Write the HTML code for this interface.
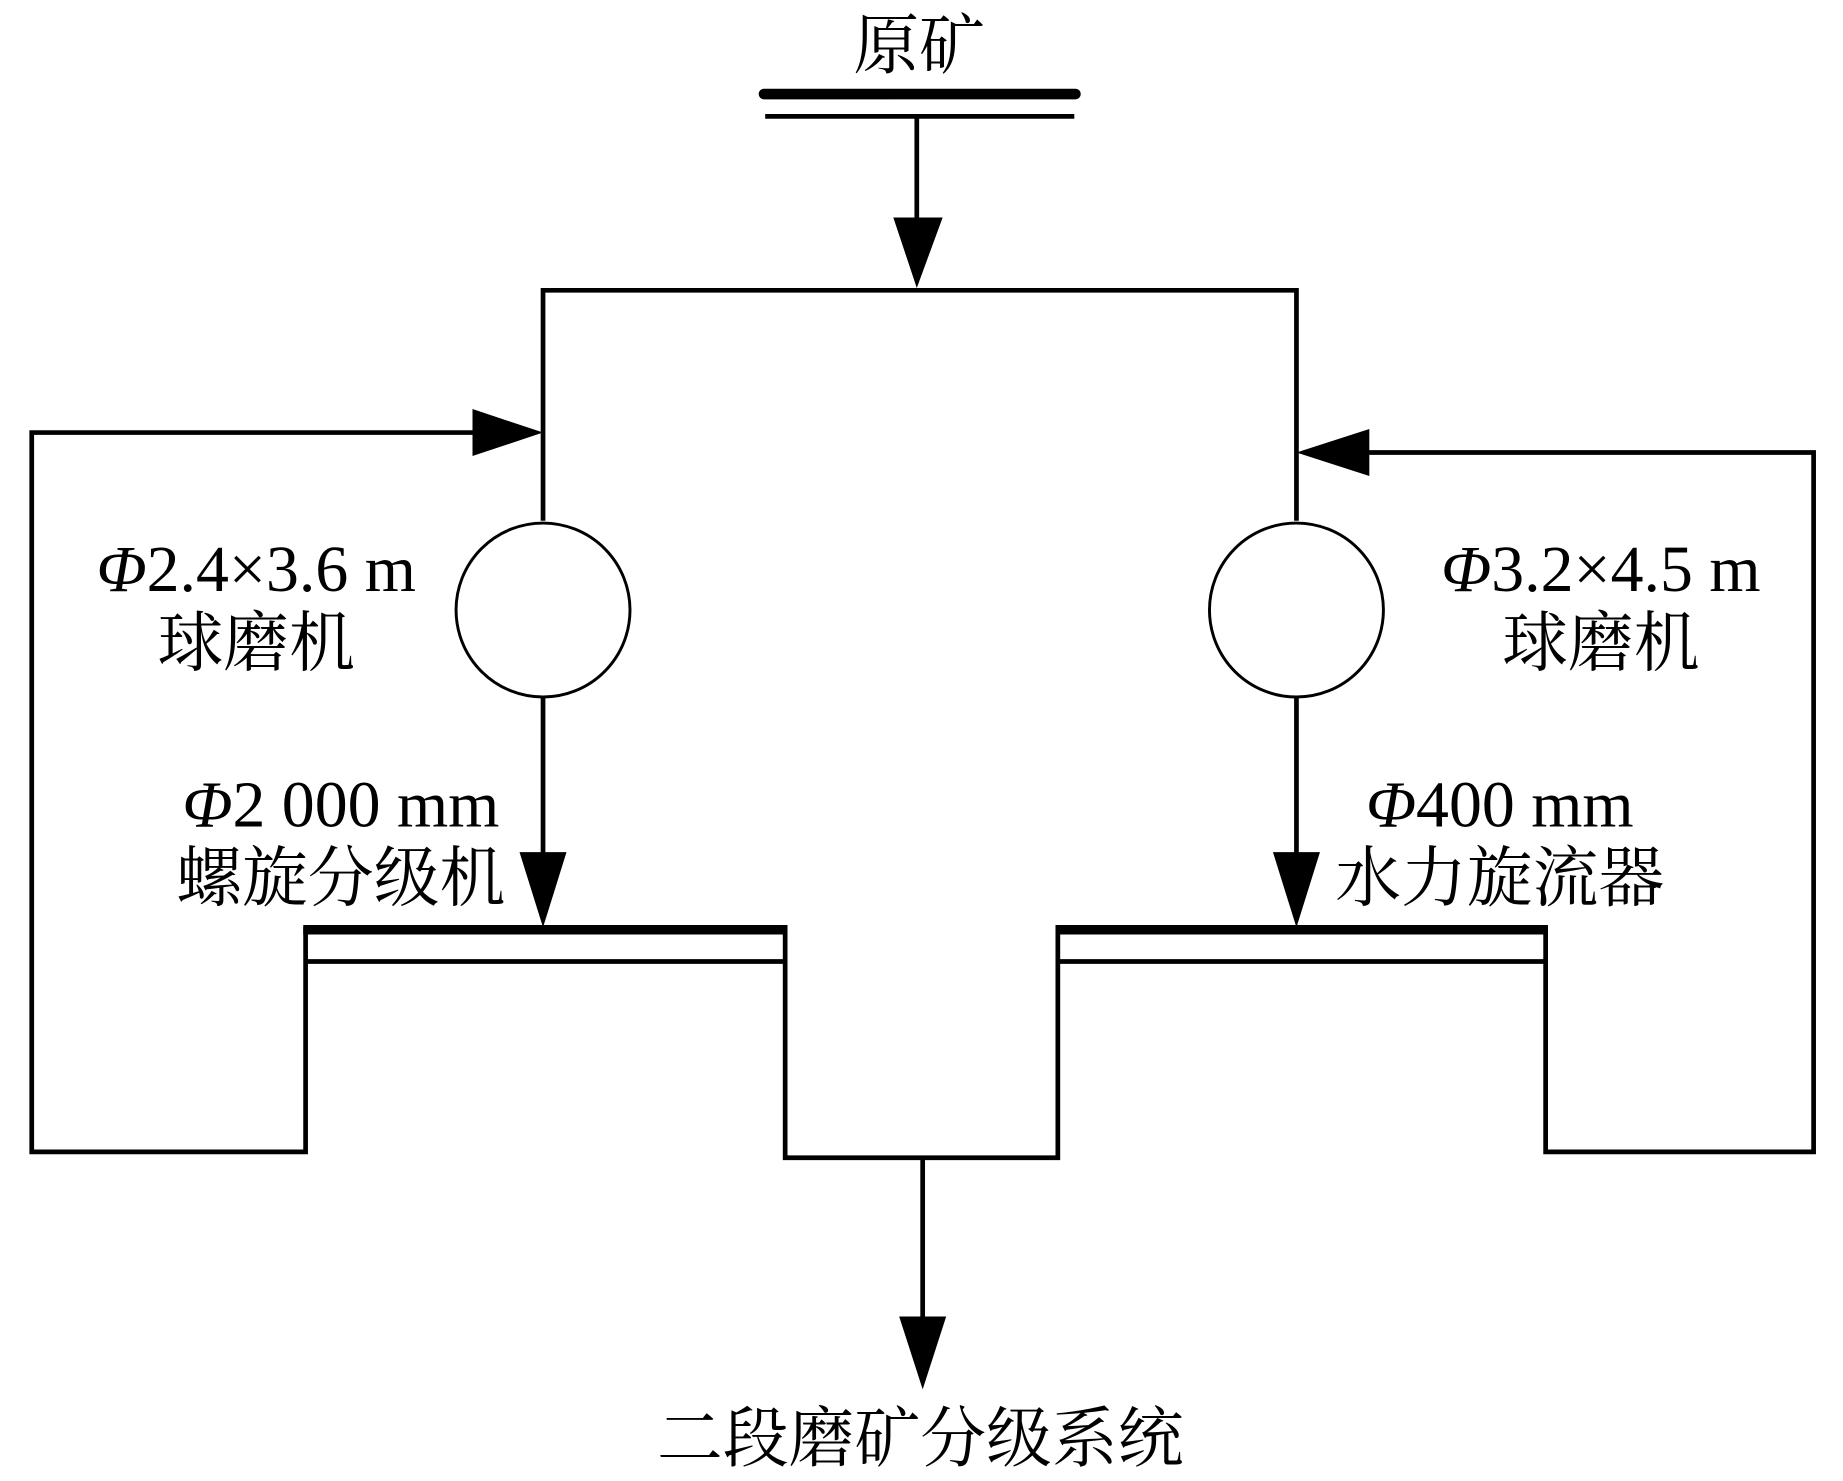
<!DOCTYPE html>
<html><head><meta charset="utf-8"><style>
html,body{margin:0;padding:0;background:#fff;}
svg{display:block;}
text{font-family:"Liberation Serif","Noto Serif CJK SC",serif;fill:#000;}
</style></head><body>
<svg width="1843" height="1481" viewBox="0 0 1568 1260" preserveAspectRatio="none" xmlns="http://www.w3.org/2000/svg">
<g stroke="#000" stroke-width="4" fill="none">
<line x1="650" y1="80" x2="915" y2="80" stroke-width="9" stroke-linecap="round"/>
<line x1="651" y1="99" x2="914" y2="99"/>
<line x1="780" y1="99" x2="780" y2="200"/>
<polyline points="462,443 462,247 1103,247 1103,443"/>
<circle cx="462" cy="519" r="74" stroke-width="2.5"/>
<circle cx="1103" cy="519" r="74" stroke-width="2.5"/>
<line x1="462" y1="593" x2="462" y2="730"/>
<line x1="1103" y1="593" x2="1103" y2="730"/>
<polyline points="410,368 27,368 27,980 260,980 260,789"/>
<line x1="260" y1="818" x2="668" y2="818"/>
<polyline points="668,789 668,985 900,985 900,789"/>
<line x1="258" y1="791" x2="670" y2="791" stroke-width="8"/>
<line x1="898" y1="791" x2="1317" y2="791" stroke-width="8"/>
<polyline points="900,818 1315,818"/>
<polyline points="1315,789 1315,980 1543,980 1543,385 1160,385"/>
<line x1="785" y1="985" x2="785" y2="1130"/>
</g>
<g fill="#000">
<polygon points="760,185 802,185 780,245"/>
<polygon points="402,348 402,388 462,368"/>
<polygon points="1165,365 1165,405 1103,385"/>
<polygon points="442,725 482,725 462,789"/>
<polygon points="1083,725 1123,725 1103,789"/>
<polygon points="765,1120 805,1120 785,1182"/>
</g>
<g font-size="56" text-anchor="middle">
<text x="782" y="58">原矿</text>
<text x="218" y="503"><tspan font-style="italic">Φ</tspan>2.4×3.6 m</text>
<text x="218" y="566">球磨机</text>
<text x="290" y="703"><tspan font-style="italic">Φ</tspan>2 000 mm</text>
<text x="290" y="766">螺旋分级机</text>
<text x="1362" y="503"><tspan font-style="italic">Φ</tspan>3.2×4.5 m</text>
<text x="1362" y="566">球磨机</text>
<text x="1276" y="703"><tspan font-style="italic">Φ</tspan>400 mm</text>
<text x="1276" y="766">水力旋流器</text>
<text x="783" y="1243">二段磨矿分级系统</text>
</g>
</svg>
</body></html>
